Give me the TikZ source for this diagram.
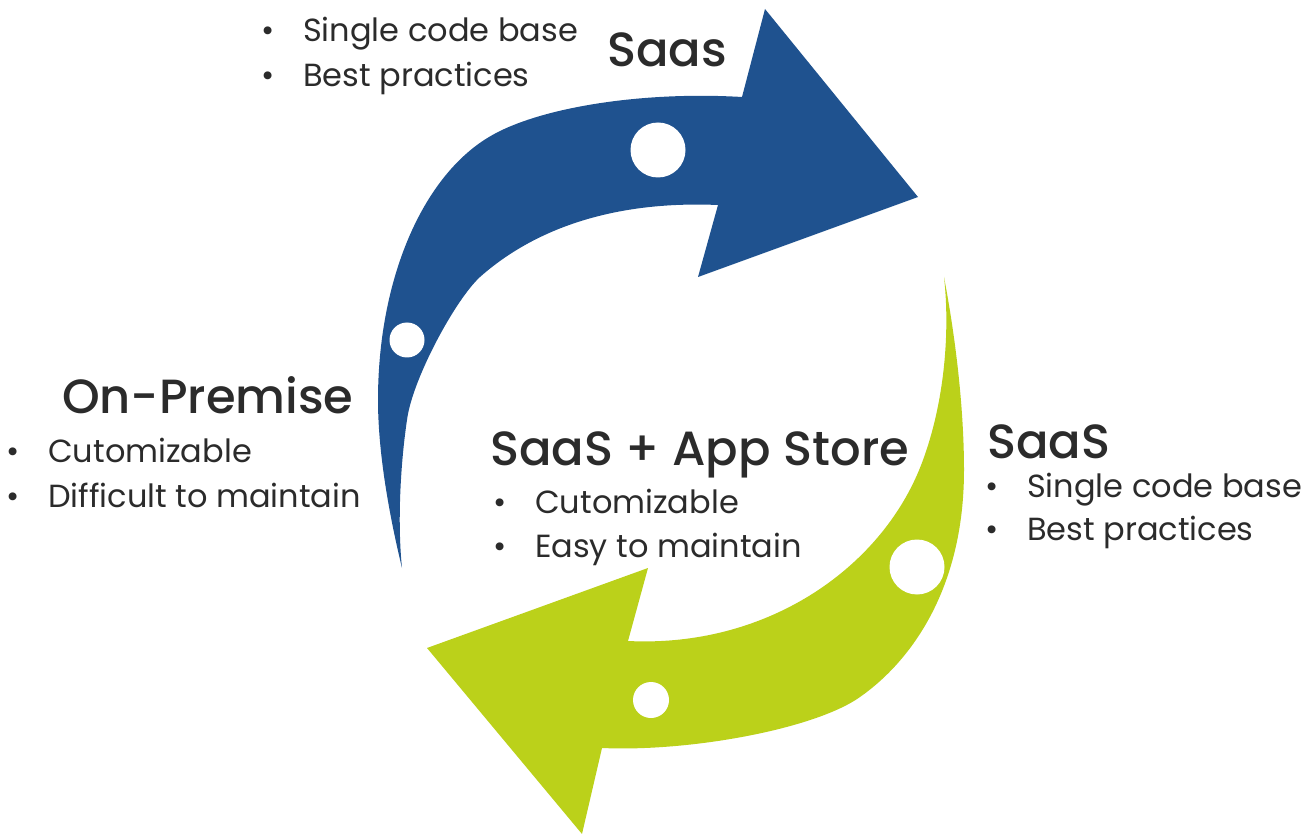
\documentclass[tikz,border=0pt]{standalone}
\usepackage{fontspec}
\setmainfont{Poppins}
\newfontfamily\titlefont{Poppins Medium}
\definecolor{arrowblue}{HTML}{1F528F}
\definecolor{arrowgreen}{HTML}{BBD11A}
\definecolor{txt}{HTML}{2B2B2B}
\tikzset{
  title/.style={anchor=base west, inner sep=0pt, text=txt, font=\titlefont\fontsize{48}{52}\selectfont},
  item/.style={anchor=base west, inner sep=0pt, text=txt, font=\fontsize{32}{36}\selectfont},
  hole/.style={circle, fill=white, draw=none, inner sep=0pt}
}
\newcommand{\bul}{\llap{\makebox[0pt]{\textbullet}\hspace{35pt}}}
\begin{document}
\begin{tikzpicture}[x=1pt,y=-1pt]
\useasboundingbox (0,0) rectangle (1315,834);
% blue arrow
\fill[arrowblue] (402,568)
  .. controls (388,510) and (378,450) .. (378,400)
  .. controls (378,280) and (422,177) .. (489,137)
  .. controls (537,108) and (640,91) .. (742,97)
  -- (765,9) -- (918,197) -- (698,277) -- (718,205)
  .. controls (600,200) and (525,237) .. (480,277)
  .. controls (455,300) and (412,380) .. (407,420)
  .. controls (401,460) and (397,520) .. (402,568) -- cycle;
% green arrow
\fill[arrowgreen] (944,277)
  .. controls (956,340) and (964,410) .. (964,470)
  .. controls (964,590) and (910,662) .. (860,697)
  .. controls (815,729) and (690,752) .. (602,748)
  -- (582,834) -- (427,648) -- (648,568) -- (628,641)
  .. controls (770,648) and (885,565) .. (923,460)
  .. controls (945,400) and (950,330) .. (944,277) -- cycle;
% holes
\node[hole, minimum size=55pt] (b1) at (658,150) {};
\node[hole, minimum size=35pt] (b2) at (407,340) {};
\node[hole, minimum size=55pt] (g1) at (917,567) {};
\node[hole, minimum size=36pt] (g2) at (651,700) {};
% texts
\node[item] (t1) at (303,42) {\bul Single code base};
\node[item] (t2) at (303,87) {\bul Best practices};
\node[title] (saas1) at (607,67) {Saas};
\node[title] (onp) at (62,413) {On-Premise};
\node[item] (l1) at (48,462) {\bul Cutomizable};
\node[item] (l2) at (48,507) {\bul Difficult to maintain};
\node[title] (app) at (490,465) {SaaS + App Store};
\node[item] (c1) at (535,513) {\bul Cutomizable};
\node[item] (c2) at (535,557) {\bul Easy to maintain};
\node[title] (saas2) at (987,458) {SaaS};
\node[item] (r1) at (1027,497) {\bul Single code base};
\node[item] (r2) at (1027,540) {\bul Best practices};
\end{tikzpicture}
\end{document}
